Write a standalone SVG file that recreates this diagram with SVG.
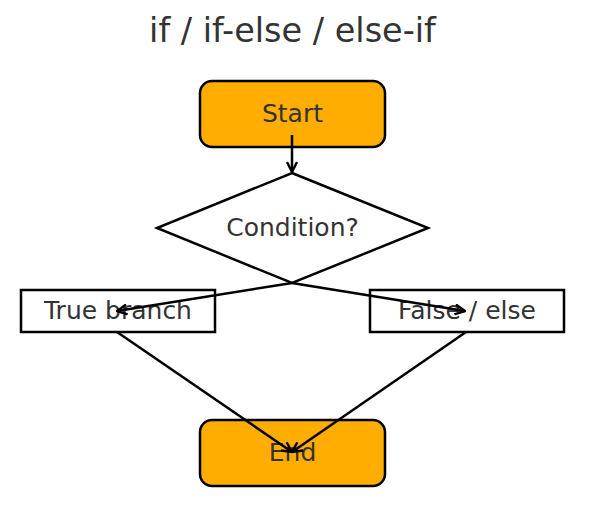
<svg xmlns="http://www.w3.org/2000/svg" width="590" height="510" viewBox="0 0 590 510">
<style>
.term{fill:#FFAD00;stroke:#000;stroke-width:2.5}
.box{fill:#fff;stroke:#000;stroke-width:2.5}
.lbl{font-family:"DejaVu Sans",sans-serif;font-size:25px;fill:#333;text-anchor:middle;dominant-baseline:central}
.edge{stroke:#000;stroke-width:2.5;fill:none;marker-end:url(#arr)}
</style>
<defs>
<marker id="arr" viewBox="0 0 12 12" refX="11" refY="6" markerWidth="12" markerHeight="12" markerUnits="userSpaceOnUse" orient="auto">
<path d="M1,1 L11,6 L1,11" fill="none" stroke="#000" stroke-width="2.4"/>
</marker>
</defs>
<rect width="590" height="510" fill="#fff"/>
<text x="292.5" y="30" font-family="DejaVu Sans,sans-serif" font-size="33.5" fill="#333" text-anchor="middle" dominant-baseline="central">if / if-else / else-if</text>
<g id="start">
<rect class="term" x="200" y="81" width="185" height="66" rx="12"/>
<text class="lbl" x="292.5" y="113">Start</text>
</g>
<g id="cond">
<polygon class="box" points="292,173 428,228 292,283 157,228"/>
<text class="lbl" x="292.5" y="227">Condition?</text>
</g>
<g id="true">
<rect class="box" x="21" y="290" width="194" height="42"/>
<text class="lbl" x="118" y="310">True branch</text>
</g>
<g id="false">
<rect class="box" x="370" y="290" width="194" height="42"/>
<text class="lbl" x="467" y="310">False / else</text>
</g>
<g id="end">
<rect class="term" x="200" y="420" width="185" height="66" rx="12"/>
<text class="lbl" x="292.5" y="452">End</text>
</g>
<g id="connectors">
<line class="edge" x1="292" y1="135" x2="292" y2="172"/>
<line class="edge" x1="292" y1="283" x2="117" y2="311"/>
<line class="edge" x1="292" y1="283" x2="465" y2="311"/>
<line class="edge" x1="117" y1="332" x2="292" y2="452"/>
<line class="edge" x1="466" y1="332" x2="292" y2="452"/>
</g>
</svg>
